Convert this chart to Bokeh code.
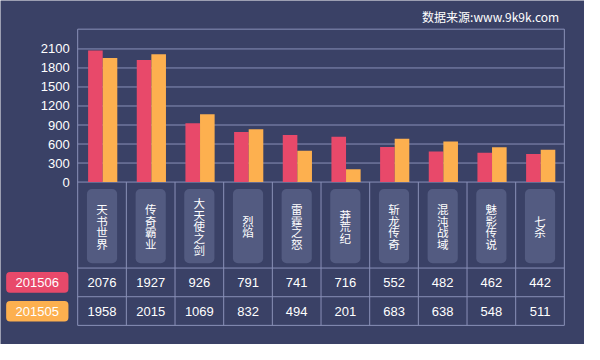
from bokeh.plotting import figure
from bokeh.models import Range1d
from bokeh.core.properties import value
from bokeh.embed import file_html
from bokeh.resources import INLINE

categories = ["天书世界", "传奇霸业", "大天使之剑", "烈焰", "雷霆之怒",
              "莽荒纪", "斩龙传奇", "混沌战域", "魅影传说", "七杀"]
s201506 = [2076, 1927, 926, 791, 741, 716, 552, 482, 462, 442]
s201505 = [1958, 2015, 1069, 832, 494, 201, 683, 638, 548, 511]
series_names = ["201506", "201505"]
y_ticks = [0, 300, 600, 900, 1200, 1500, 1800, 2100]
source_text = "数据来源:www.9k9k.com"

W, H = 584, 344
BG = "#3a4166"
LINE = "#8990b8"
RED = "#e8496a"
ORANGE = "#fdb04f"
BOX = "#535b81"
TXT = "#ffffff"
NUMFONT = value("Liberation Sans")
CJK = value("Noto Sans CJK SC")

# layout expressed in the 600x360 design grid
X0, COL, Y0, K = 79.3, 50.0, 190.0, 139.3 / 2100


def dx(px):
    return (px - X0) / COL


def dy(py):
    return (Y0 - py) / K


n = len(categories)
idx = list(range(n))

p = figure(width=W, height=H, x_range=Range1d(dx(0), dx(600)), y_range=Range1d(dy(360), dy(0)),
           x_axis_type=None, y_axis_type=None, toolbar_location=None,
           output_backend="svg", min_border=0)
p.background_fill_color = BG
p.border_fill_color = BG
p.outline_line_color = None

# grid lines
p.segment(x0=[0] * len(y_ticks), x1=[n] * len(y_ticks), y0=y_ticks, y1=y_ticks,
          line_color=LINE, line_width=1)
# frame + table lines
hy = [dy(30), dy(280), dy(310), dy(340)]
p.segment(x0=[0] * 4, x1=[n] * 4, y0=hy, y1=hy, line_color=LINE, line_width=1)
vx = list(range(n + 1))
vtop = [dy(30) if (i == 0 or i == n) else 0 for i in vx]
p.segment(x0=vx, x1=vx, y0=[dy(340)] * (n + 1), y1=vtop, line_color=LINE, line_width=1)

# bars
p.vbar(x=[i + 0.364 for i in idx], top=s201506, bottom=0, width=0.3,
       fill_color=RED, line_color=None)
p.vbar(x=[i + 0.664 for i in idx], top=s201505, bottom=0, width=0.3,
       fill_color=ORANGE, line_color=None)

# y tick labels
p.text(x=[dx(71)] * len(y_ticks), y=y_ticks, text=[str(t) for t in y_ticks],
       text_align="right", text_baseline="middle", text_color=TXT,
       text_font=NUMFONT, text_font_size="13px")

# category boxes and vertical labels
p.rect(x=[i + 0.5 for i in idx], y=[dy(236.2)] * n, width=31 / COL, height=(275 - 197.3) / K,
       fill_color=BOX, line_color=None, border_radius=5)
p.text(x=[i + 0.5 for i in idx], y=[dy(236.5)] * n, text=["\n".join(c) for c in categories],
       text_align="center", text_baseline="middle", text_color=TXT,
       text_font=CJK, text_font_size="11.5px", text_line_height=0.74)

# table values
p.text(x=[i + 0.5 for i in idx], y=[dy(295.3)] * n, text=[str(v) for v in s201506],
       text_align="center", text_baseline="middle", text_color=TXT,
       text_font=NUMFONT, text_font_size="13px")
p.text(x=[i + 0.5 for i in idx], y=[dy(325)] * n, text=[str(v) for v in s201505],
       text_align="center", text_baseline="middle", text_color=TXT,
       text_font=NUMFONT, text_font_size="13px")

# legend boxes
p.rect(x=[dx(37.8)] * 2, y=[dy(295), dy(325.2)], width=64 / COL, height=21.5 / K,
       fill_color=[RED, ORANGE], line_color=None, border_radius=4)
p.text(x=[dx(37.8)] * 2, y=[dy(295), dy(325.2)], text=series_names,
       text_align="center", text_baseline="middle", text_color=TXT,
       text_font=NUMFONT, text_font_size="13px")

# source
p.text(x=[dx(574)], y=[dy(17)], text=[source_text], text_align="right",
       text_baseline="middle", text_color=TXT, text_font=CJK, text_font_size="12px")

open("out.html", "w").write(file_html(p, INLINE))
